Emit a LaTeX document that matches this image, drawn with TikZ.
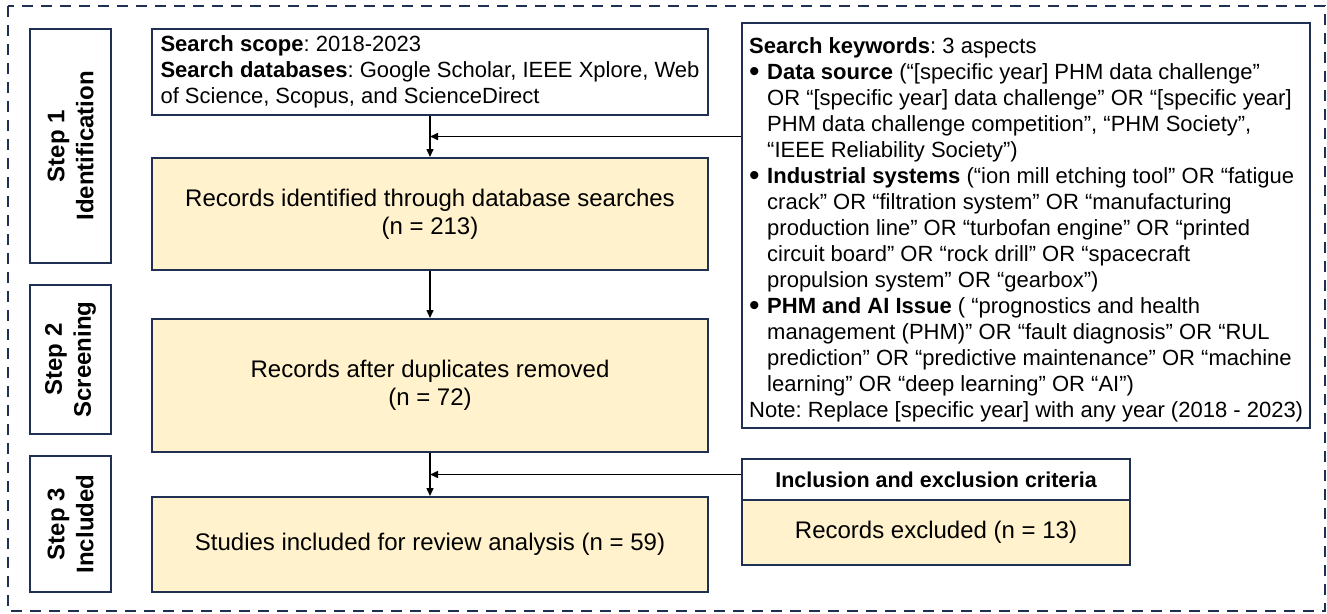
\documentclass[tikz,border=0pt]{standalone}
\usepackage{fontspec}
\setmainfont{Liberation Sans}
\usetikzlibrary{arrows.meta}
\definecolor{navy}{RGB}{32,48,84}
\definecolor{lightyellow}{HTML}{FFF2CC}
\newcommand{\kwbullet}{\makebox[18pt][l]{\raisebox{-2pt}{\fontsize{30}{30}\selectfont\textbullet}}}
\newcommand{\kwind}{\hspace*{18pt}}
\frenchspacing
\begin{document}
\begin{tikzpicture}[x=1pt,y=-1pt,
  frame/.style={draw=navy, line width=2pt, rectangle, inner sep=0pt},
  ybox/.style={frame, fill=lightyellow, minimum width=556pt, align=center, font=\fontsize{24}{28}\selectfont},
  steplbl/.style={frame, rotate=90, minimum height=81pt, align=center, font=\bfseries\fontsize{24}{29}\selectfont},
  arr/.style={-{Triangle[length=8pt,width=7pt]}, line width=1.5pt, black}]
\useasboundingbox (0,0) rectangle (1327,613);
\draw[navy, line width=2pt, dash pattern=on 11pt off 8pt] (8,6) rectangle (1325,611);

% step labels
\node[steplbl, minimum width=234pt] (s1) at (70.5,146) {Step 1\\Identification};
\node[steplbl, minimum width=149pt] (s2) at (70.5,359.5) {Step 2\\Screening};
\node[steplbl, minimum width=136pt] (s3) at (70.5,524) {Step 3\\Included};

% search scope
\node[frame, minimum width=556pt, minimum height=86pt, align=left,
      font=\fontsize{22}{26}\selectfont] (scope) at (430,72)
 {\textbf{Search scope}: 2018-2023\\
  \textbf{Search databases}: Google Scholar, IEEE Xplore, Web\\
  of Science, Scopus, and ScienceDirect};

% yellow flow boxes
\node[ybox, minimum height=112pt] (rec1) at (430,214) {Records identified through database searches\\(n = 213)};
\node[ybox, minimum height=133pt] (rec2) at (430,385.5) {Records after duplicates removed\\(n = 72)};
\node[ybox, minimum height=95pt] (rec3) at (430,544.5) {Studies included for review analysis (n = 59)};

% keywords box
\node[frame, minimum width=568pt, minimum height=405pt] (kw) at (1026,225.5) {};
\node[anchor=north west, inner sep=0pt, align=left, font=\fontsize{22}{26}\selectfont] (kwt) at (749,37)
 {\textbf{Search keywords}: 3 aspects\\
  \kwbullet\textbf{Data source} (“[specific year] PHM data challenge”\\
  \kwind OR “[specific year] data challenge” OR “[specific year]\\
  \kwind PHM data challenge competition”, “PHM Society”,\\
  \kwind “IEEE Reliability Society”)\\
  \kwbullet\textbf{Industrial systems} (“ion mill etching tool” OR “fatigue\\
  \kwind crack” OR “filtration system” OR “manufacturing\\
  \kwind production line” OR “turbofan engine” OR “printed\\
  \kwind circuit board” OR “rock drill” OR “spacecraft\\
  \kwind propulsion system” OR “gearbox”)\\
  \kwbullet\textbf{PHM and AI Issue} ( “prognostics and health\\
  \kwind management (PHM)” OR “fault diagnosis” OR “RUL\\
  \kwind prediction” OR “predictive maintenance” OR “machine\\
  \kwind learning” OR “deep learning” OR “AI”)\\
  Note: Replace [specific year] with any year (2018 - 2023)};

% inclusion / exclusion
\node[frame, minimum width=388pt, minimum height=41pt, font=\bfseries\fontsize{21.5}{26}\selectfont] (inc) at (936,479.5) {Inclusion and exclusion criteria};
\node[frame, fill=lightyellow, minimum width=388pt, minimum height=65pt, font=\fontsize{24}{28}\selectfont] (exc) at (936,532.5) {Records excluded (n = 13)};

% connectors
\path (scope.south) -- (rec1.north) coordinate[pos=0.5] (j1);
\path (rec2.south) -- (rec3.north) coordinate[pos=0.5] (j2);
\draw[arr] (scope.south) -- (rec1.north);
\draw[arr] (kw.west |- j1) -- (j1);
\draw[arr] (rec1.south) -- (rec2.north);
\draw[arr] (rec2.south) -- (rec3.north);
\draw[arr] (inc.west |- j2) -- (j2);
\end{tikzpicture}
\end{document}
